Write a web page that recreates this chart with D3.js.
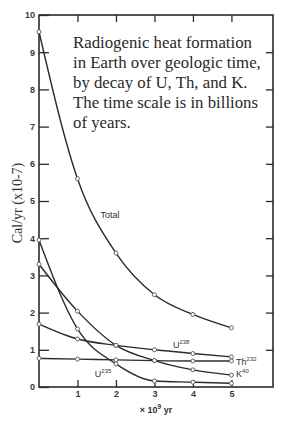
<!DOCTYPE html>
<html>
<head>
<meta charset="utf-8">
<script src="https://cdn.jsdelivr.net/npm/d3@7"></script>
<style>
    body{margin:0;background:#fff;}
    svg{display:block;}
</style>
</head>
<body>
<svg id="chart" width="286" height="425"></svg>
<script>
//--------------------------------------------------------------- data
let years = [0, 1, 2, 3, 4, 5];                       // x 10^9 yr
let total = [9.55, 5.6, 3.6, 2.48, 1.95, 1.59];
let u235 = [3.95, 1.56, 0.62, 0.16, 0.13, 0.10];
let k40 = [3.3, 2.04, 1.12, 0.71, 0.46, 0.32];
let u238 = [1.69, 1.29, 1.12, 1.0, 0.9, 0.81];
let th232 = [0.77, 0.75, 0.73, 0.71, 0.7, 0.7];
let yTicks = [0, 1, 2, 3, 4, 5, 6, 7, 8, 9, 10];
let xTicks = [1, 2, 3, 4, 5];
let note = ["Radiogenic heat formation", "in Earth over geologic time,",
    "by decay of U, Th, and K.", "The time scale is in billions", "of years."];

let series = [
    {name: "Total", values: total},
    {name: "U235", values: u235},
    {name: "K40", values: k40},
    {name: "U238", values: u238},
    {name: "Th232", values: th232}
];

let svg = d3.select("#chart");
let mLeft = 39, mRight = 273, mTop = 15, mBottom = 387;     //plot frame
let ink = "#2b2b2b";

let xScale = d3.scaleLinear().domain([0, 6.08]).range([mLeft, mRight]);
let yScale = d3.scaleLinear().domain([0, 10]).range([mBottom, mTop]);

//--------------------------------------------------------------- frame + ticks
svg.append("rect").attr("x", mLeft).attr("y", mTop)
    .attr("width", mRight - mLeft).attr("height", mBottom - mTop)
    .attr("fill", "none").attr("stroke", ink).attr("stroke-width", 1.6);

let yAxisL = d3.axisLeft(yScale).tickValues(yTicks).tickSize(-10).tickPadding(4)
    .tickFormat(d3.format("d"));
svg.append("g").attr("transform", "translate(" + mLeft + ",0)").call(yAxisL);

let yAxisR = d3.axisRight(yScale).tickValues(yTicks.slice(1, -1)).tickSize(-7).tickFormat("");
svg.append("g").attr("transform", "translate(" + mRight + ",0)").call(yAxisR);

let xAxisB = d3.axisBottom(xScale).tickValues(xTicks).tickSize(-7).tickPadding(4)
    .tickFormat(d3.format("d"));
svg.append("g").attr("transform", "translate(0," + mBottom + ")").call(xAxisB);

let xAxisT = d3.axisTop(xScale).tickValues(xTicks).tickSize(-7).tickFormat("");
svg.append("g").attr("transform", "translate(0," + mTop + ")").call(xAxisT);

svg.selectAll(".domain").remove();              //frame rect already draws the border
svg.selectAll(".tick line").attr("stroke", ink).attr("stroke-width", 1.3);
svg.selectAll(".tick text").attr("fill", "#3a3a3a")
    .style("font-family", "Liberation Sans, Arial, sans-serif")
    .style("font-size", "9px").style("font-weight", "bold");

//--------------------------------------------------------------- curves
let line = d3.line().x((d, i) => xScale(years[i])).y(d => yScale(d))
    .curve(d3.curveMonotoneX);

svg.append("g").selectAll("path").data(series).enter().append("path")
    .attr("d", d => line(d.values))
    .attr("fill", "none").attr("stroke", ink).attr("stroke-width", 1.4);

let dots = svg.append("g");
for (let s of series) {
    dots.selectAll(null).data(s.values).enter().append("circle")
        .attr("cx", (d, i) => xScale(years[i])).attr("cy", d => yScale(d))
        .attr("r", 2).attr("fill", "#fff").attr("stroke", "#555").attr("stroke-width", 0.9);
}

//--------------------------------------------------------------- curve labels
let labelFont = "Liberation Sans, Arial, sans-serif";
function isoLabel(x, y, base, mass) {
    let t = svg.append("text").attr("x", x).attr("y", y).attr("fill", "#333")
        .style("font-family", labelFont).style("font-size", "9px");
    t.append("tspan").text(base);
    if (mass) t.append("tspan").attr("dy", -4).style("font-size", "6px").text(mass);
}
isoLabel(xScale(1.6), yScale(4.55), "Total");
isoLabel(xScale(1.45), yScale(0.26), "U", "235");
isoLabel(xScale(3.48), yScale(1.05), "U", "238");
isoLabel(xScale(5.12), yScale(0.58), "Th", "232");
isoLabel(xScale(5.12), yScale(0.27), "K", "40");

//--------------------------------------------------------------- axis titles + note
svg.append("text").attr("transform", "translate(22,203) rotate(-90)")
    .attr("text-anchor", "middle").attr("fill", "#333")
    .style("font-family", "Liberation Serif, Times New Roman, serif").style("font-size", "14px")
    .text("Cal/yr (x10-7)");

let xt = svg.append("text").attr("x", 156).attr("y", 413).attr("text-anchor", "middle")
    .attr("fill", "#333").style("font-family", labelFont).style("font-size", "9px")
    .style("font-weight", "bold");
xt.append("tspan").text("\u00d7 10");
xt.append("tspan").attr("dy", -4).style("font-size", "6.5px").text("9");
xt.append("tspan").attr("dy", 4).text(" yr");

svg.append("g").selectAll("text").data(note).enter().append("text")
    .attr("x", 73).attr("y", (d, i) => 48 + i * 20.1)
    .attr("fill", "#2a2a2a")
    .style("font-family", "Liberation Serif, Times New Roman, serif").style("font-size", "16.8px")
    .text(d => d);
</script>
</body>
</html>
